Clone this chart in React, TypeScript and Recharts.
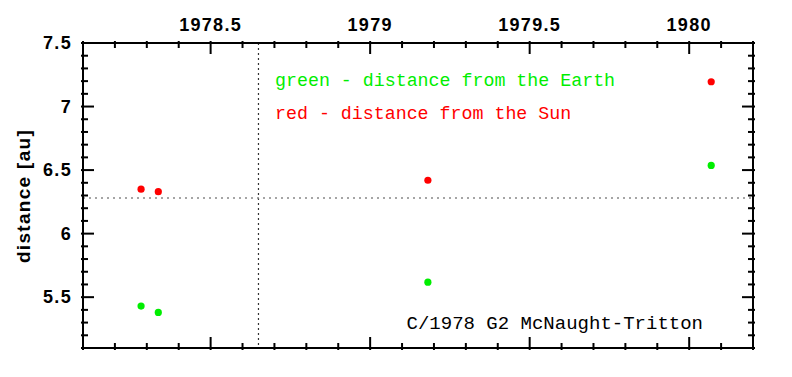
import { ScatterChart, Scatter, XAxis, YAxis, ReferenceLine } from "recharts";

// observation epochs (decimal year) and distances in au
const epochs = [1978.282, 1978.336, 1979.181, 1980.069];
const sunDist = [6.35, 6.33, 6.42, 7.195];
const earthDist = [5.43, 5.38, 5.618, 6.537];

const xTicks = [
  1978.1, 1978.2, 1978.3, 1978.4, 1978.5, 1978.6, 1978.7, 1978.8, 1978.9, 1979,
  1979.1, 1979.2, 1979.3, 1979.4, 1979.5, 1979.6, 1979.7, 1979.8, 1979.9, 1980,
  1980.1, 1980.2,
];
const yTicks = [
  5.1, 5.2, 5.3, 5.4, 5.5, 5.6, 5.7, 5.8, 5.9, 6, 6.1, 6.2, 6.3, 6.4, 6.5, 6.6,
  6.7, 6.8, 6.9, 7, 7.1, 7.2, 7.3, 7.4, 7.5,
];

const perihelionEpoch = 1978.65;
const perihelionDist = 6.28;

const sunData = epochs.map((t, i) => ({ t, d: sunDist[i] }));
const earthData = epochs.map((t, i) => ({ t, d: earthDist[i] }));

const isMajor = (v: number) => Math.abs(v * 2 - Math.round(v * 2)) < 1e-6;

const tickFont = {
  fontFamily: "'Liberation Sans', Arial, sans-serif",
  fontWeight: 700,
  fontSize: 18,
  letterSpacing: 1.3,
};

const MAJOR = 13;
const MINOR = 7;

function TopTick(props: any) {
  const { x, y, payload } = props;
  const v = payload.value;
  const len = isMajor(v) ? MAJOR : MINOR;
  return (
    <g>
      <line x1={x} x2={x} y1={y} y2={y + len} stroke="#000" strokeWidth={2} />
      {isMajor(v) && (
        <text x={x} y={y - 10} textAnchor="middle" fill="#000" style={tickFont}>
          {String(v)}
        </text>
      )}
    </g>
  );
}

function BottomTick(props: any) {
  const { x, y, payload } = props;
  const len = isMajor(payload.value) ? MAJOR : MINOR;
  return <line x1={x} x2={x} y1={y} y2={y - len} stroke="#000" strokeWidth={2} />;
}

function LeftTick(props: any) {
  const { x, y, payload } = props;
  const v = payload.value;
  const len = isMajor(v) ? MAJOR : MINOR;
  return (
    <g>
      <line x1={x} x2={x + len} y1={y} y2={y} stroke="#000" strokeWidth={2} />
      {isMajor(v) && (
        <text x={x - 9} y={y + 6} textAnchor="end" fill="#000" style={tickFont}>
          {String(v)}
        </text>
      )}
    </g>
  );
}

function RightTick(props: any) {
  const { x, y, payload } = props;
  const len = isMajor(payload.value) ? MAJOR : MINOR;
  return <line x1={x} x2={x - len} y1={y} y2={y} stroke="#000" strokeWidth={2} />;
}

const Dot = (color: string) => (props: any) =>
  <circle cx={props.cx} cy={props.cy} r={3.6} fill={color} />;

const mono = "'Liberation Mono', 'Courier New', monospace";

export default function App() {
  return (
    <div style={{ position: "absolute", left: 0, top: 0, background: "#fff" }}>
      <ScatterChart width={792} height={377} margin={{ top: 0, right: 0, bottom: 0, left: 0 }}>
        <XAxis
          xAxisId="top"
          orientation="top"
          type="number"
          dataKey="t"
          domain={[1978.1, 1980.2]}
          ticks={xTicks}
          interval={0}
          height={43}
          tickSize={0}
          tickLine={false}
          axisLine={{ stroke: "#000", strokeWidth: 2 }}
          tick={<TopTick />}
          allowDataOverflow
        />
        <XAxis
          xAxisId="bottom"
          orientation="bottom"
          type="number"
          dataKey="t"
          domain={[1978.1, 1980.2]}
          ticks={xTicks}
          interval={0}
          height={29}
          tickSize={0}
          tickLine={false}
          axisLine={{ stroke: "#000", strokeWidth: 2 }}
          tick={<BottomTick />}
          allowDataOverflow
        />
        <YAxis
          yAxisId="left"
          orientation="left"
          type="number"
          dataKey="d"
          domain={[5.1, 7.5]}
          ticks={yTicks}
          interval={0}
          width={83}
          tickSize={0}
          tickLine={false}
          axisLine={{ stroke: "#000", strokeWidth: 2 }}
          tick={<LeftTick />}
          allowDataOverflow
        />
        <YAxis
          yAxisId="right"
          orientation="right"
          type="number"
          dataKey="d"
          domain={[5.1, 7.5]}
          ticks={yTicks}
          interval={0}
          width={39}
          tickSize={0}
          tickLine={false}
          axisLine={{ stroke: "#000", strokeWidth: 2 }}
          tick={<RightTick />}
          allowDataOverflow
        />
        <ReferenceLine
          xAxisId="top"
          yAxisId="left"
          x={perihelionEpoch}
          stroke="#333"
          strokeWidth={1.2}
          strokeDasharray="2 3"
        />
        <ReferenceLine
          xAxisId="top"
          yAxisId="left"
          y={perihelionDist}
          stroke="#888"
          strokeWidth={1.5}
          strokeDasharray="2 4"
        />
        <Scatter
          xAxisId="top"
          yAxisId="left"
          data={earthData}
          shape={Dot("#00ee00")}
          isAnimationActive={false}
        />
        <Scatter
          xAxisId="top"
          yAxisId="left"
          data={sunData}
          shape={Dot("#ff0000")}
          isAnimationActive={false}
        />
        <text
          x={23}
          y={196}
          transform="rotate(-90 23 196)"
          textAnchor="middle"
          dominantBaseline="central"
          fill="#000"
          style={{ ...tickFont, fontSize: 19 }}
        >
          distance [au]
        </text>
        <text x={275} y={86} fill="#00ee00" style={{ fontFamily: mono, fontSize: 18.3 }}>
          green - distance from the Earth
        </text>
        <text x={275} y={119} fill="#ff0000" style={{ fontFamily: mono, fontSize: 18.3 }}>
          red - distance from the Sun
        </text>
        <text x={703} y={329} textAnchor="end" fill="#000" style={{ fontFamily: mono, fontSize: 19 }}>
          C/1978 G2 McNaught-Tritton
        </text>
      </ScatterChart>
    </div>
  );
}
